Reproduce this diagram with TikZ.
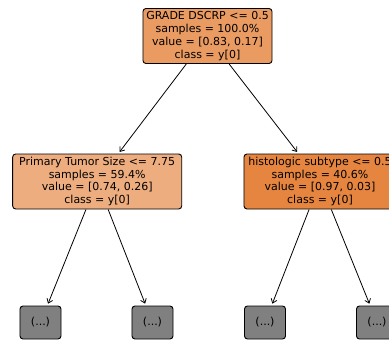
\documentclass[tikz,border=0pt]{standalone}
\usepackage{fontspec}
\setmainfont{DejaVu Sans}
\usetikzlibrary{arrows.meta}
\definecolor{rootfill}{RGB}{234,155,98}
\definecolor{leftfill}{RGB}{238,173,127}
\definecolor{rightfill}{RGB}{230,133,63}
\definecolor{truncfill}{RGB}{128,128,128}
\tikzset{
  treebox/.style={draw=black, line width=0.9bp, rounded corners=3bp, align=center,
    inner sep=0pt, font=\fontsize{11bp}{12.8bp}\selectfont},
  split/.style={treebox, minimum height=55bp},
  trunc/.style={treebox, fill=truncfill, minimum width=41bp, minimum height=33bp},
  edge/.style={draw=black, line width=0.8bp, shorten >=2bp,
    -{Straight Barb[length=4bp,width=6bp]}}
}
\begin{document}
\begin{tikzpicture}[x=1bp,y=-1bp]
  \useasboundingbox (0,0) rectangle (389,352);
  \clip (0,0) rectangle (389,352);
  % split nodes
  \node[split, fill=rootfill, minimum width=129bp] (root) at (207.5,36)
    {GRADE DSCRP <= 0.5\\samples = 100.0\%\\value = [0.83, 0.17]\\class = y[0]};
  \node[split, fill=leftfill, minimum width=169bp] (left) at (97.2,181.5)
    {Primary Tumor Size <= 7.75\\samples = 59.4\%\\value = [0.74, 0.26]\\class = y[0]};
  \node[split, fill=rightfill, minimum width=152bp] (right) at (320,181.5)
    {histologic subtype <= 0.5\\samples = 40.6\%\\value = [0.97, 0.03]\\class = y[0]};
  % truncated subtrees
  \node[trunc] (ll) at (40.5,322.5) {(...)};
  \node[trunc] (lr) at (152.5,322.5) {(...)};
  \node[trunc] (rl) at (265,322.5) {(...)};
  \node[trunc] (rr) at (377,322.5) {(...)};
  % edges
  \draw[edge] (root) -- (left);
  \draw[edge] (root) -- (right);
  \draw[edge] (left) -- (ll);
  \draw[edge] (left) -- (lr);
  \draw[edge] (right) -- (rl);
  \draw[edge] (right) -- (rr);
\end{tikzpicture}
\end{document}
